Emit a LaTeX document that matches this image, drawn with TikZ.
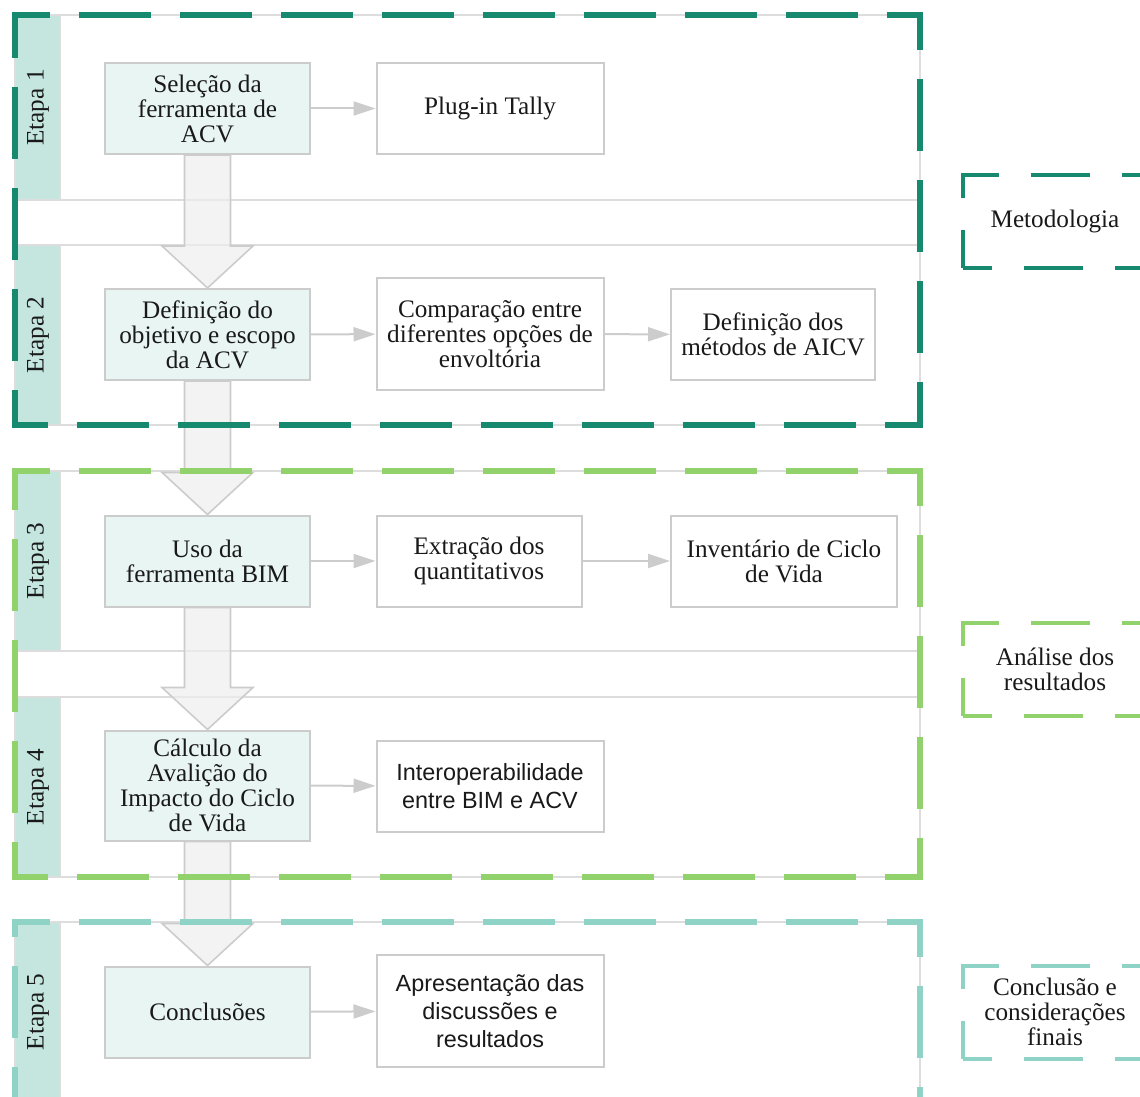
\documentclass[tikz,border=0pt]{standalone}
\usepackage{fontspec}
\setmainfont{Liberation Serif}
\newfontfamily\arialfont{Liberation Sans}
\usetikzlibrary{calc, arrows.meta, backgrounds}

\definecolor{tealdark}{HTML}{17896F}
\definecolor{greenlight}{HTML}{92D26C}
\definecolor{teallight}{HTML}{8ED3C6}
\definecolor{tabfill}{HTML}{C4E6DF}
\definecolor{boxfill}{HTML}{E9F5F3}
\definecolor{boxline}{HTML}{CCCCCC}
\definecolor{laneline}{HTML}{DDDDDD}
\definecolor{arrowfill}{HTML}{EEEEEE}

\begin{document}
\begin{tikzpicture}[x=0.5pt, y=-0.5pt,
    every node/.style={font=\fontsize{12.6}{12.5}\selectfont, text=black!90, align=center, inner sep=0pt},
    lane/.style={draw=laneline, line width=0.8pt},
    tab/.style={draw=laneline, line width=0.8pt, fill=tabfill},
    stepbox/.style={draw=boxline, line width=1pt, fill=boxfill, minimum width=102.5pt, minimum height=45.5pt},
    outbox/.style={draw=boxline, line width=1pt, fill=white, minimum width=113.5pt, minimum height=45.5pt},
    sanstext/.style={font=\arialfont\fontsize{11.7}{14}\selectfont},
    bigarrow/.style={draw=boxline, line width=0.8pt, fill=arrowfill, fill opacity=0.7},
    flow/.style={draw=boxline, line width=1pt, -{Triangle[length=11pt, width=7pt]}},
    group/.style={line width=2.7pt, line cap=rect, dash pattern=on 33pt off 17.5pt, dash phase=17pt},
    tagbox/.style={line width=2pt, dash pattern=on 29.5pt off 16pt, dash phase=15pt, minimum width=92pt, minimum height=46.5pt}
]

\useasboundingbox (0,0) rectangle (1140,1097);

% lanes with their tabs
\begin{scope}[on background layer]
\foreach \ya/\yb [count=\i] in {15/200, 245/425, 471/651, 697/877, 922/1102} {
    \draw[lane] (15,\ya) rectangle (920,\yb);
    \draw[tab] (15,\ya) rectangle (60,\yb);
}
\end{scope}
\foreach \yc [count=\i] in {107.5, 335, 561, 787, 1012}
    \node[rotate=90] (etapa\i) at (38,\yc) {Etapa \i};

% steps
\node[stepbox] (A1) at (207.5,108.5) {Seleção da\\ferramenta de\\ACV};
\node[stepbox] (A2) at (207.5,334.5) {Definição do\\objetivo e escopo\\da ACV};
\node[stepbox] (A3) at (207.5,561) {Uso da\\ferramenta BIM};
\node[stepbox, minimum height=55pt] (A4) at (207.5,785.5) {Cálculo da\\Avalição do\\Impacto do Ciclo\\de Vida};
\node[stepbox] (A5) at (207.5,1012) {Conclusões};

\begin{scope}[on background layer]
% big arrows between steps
\foreach \a/\b in {A1/A2, A2/A3, A3/A4, A4/A5}
    \draw[bigarrow] ($(\a.south)+(-23,0)$) -- ($(\b.north)+(-23,-42)$) -- ($(\b.north)+(-45.5,-42)$)
        -- (\b.north) -- ($(\b.north)+(45.5,-42)$) -- ($(\b.north)+(23,-42)$) -- ($(\a.south)+(23,0)$) -- cycle;

% dashed groups, one side at a time
\foreach \ya/\yb/\col in {15/425/tealdark, 471/877/greenlight, 922/1102/teallight}
    \draw[group, \col] (15,\ya) -- (920,\ya) (920,\ya) -- (920,\yb) (920,\yb) -- (15,\yb) (15,\yb) -- (15,\ya);
\end{scope}

% outcomes
\node[outbox] (B1) at (490,108.5) {Plug-in Tally};
\node[outbox, minimum height=56pt] (B2) at (490,334) {Comparação entre\\diferentes opções de\\envoltória};
\node[outbox, minimum width=102pt] (C2) at (773,334.5) {Definição dos\\métodos de AICV};
\node[outbox, minimum width=102.5pt] (B3) at (479,561) {Extração dos\\quantitativos};
\node[outbox, minimum width=113pt] (C3) at (784,561) {Inventário de Ciclo\\de Vida};
\node[outbox, sanstext] (B4) at (490,786) {Interoperabilidade\\entre BIM e ACV};
\node[outbox, sanstext, minimum height=56pt] (B5) at (490,1011) {Apresentação das\\discussões e\\resultados};

\draw[flow] (A1) -- (B1);
\draw[flow] (A2) -- (B2);
\draw[flow] (B2) -- (C2);
\draw[flow] (A3) -- (B3);
\draw[flow] (B3) -- (C3);
\draw[flow] (A4) -- (B4);
\draw[flow] (A5) -- (B5);

% phase labels
\node[tagbox, draw=tealdark] (metodologia) at (1055,221.5) {Metodologia};
\node[tagbox, draw=greenlight] (analise) at (1055,669) {Análise dos\\resultados};
\node[tagbox, draw=teallight] (conclusao) at (1055,1012) {Conclusão e\\considerações\\finais};
\end{tikzpicture}
\end{document}
